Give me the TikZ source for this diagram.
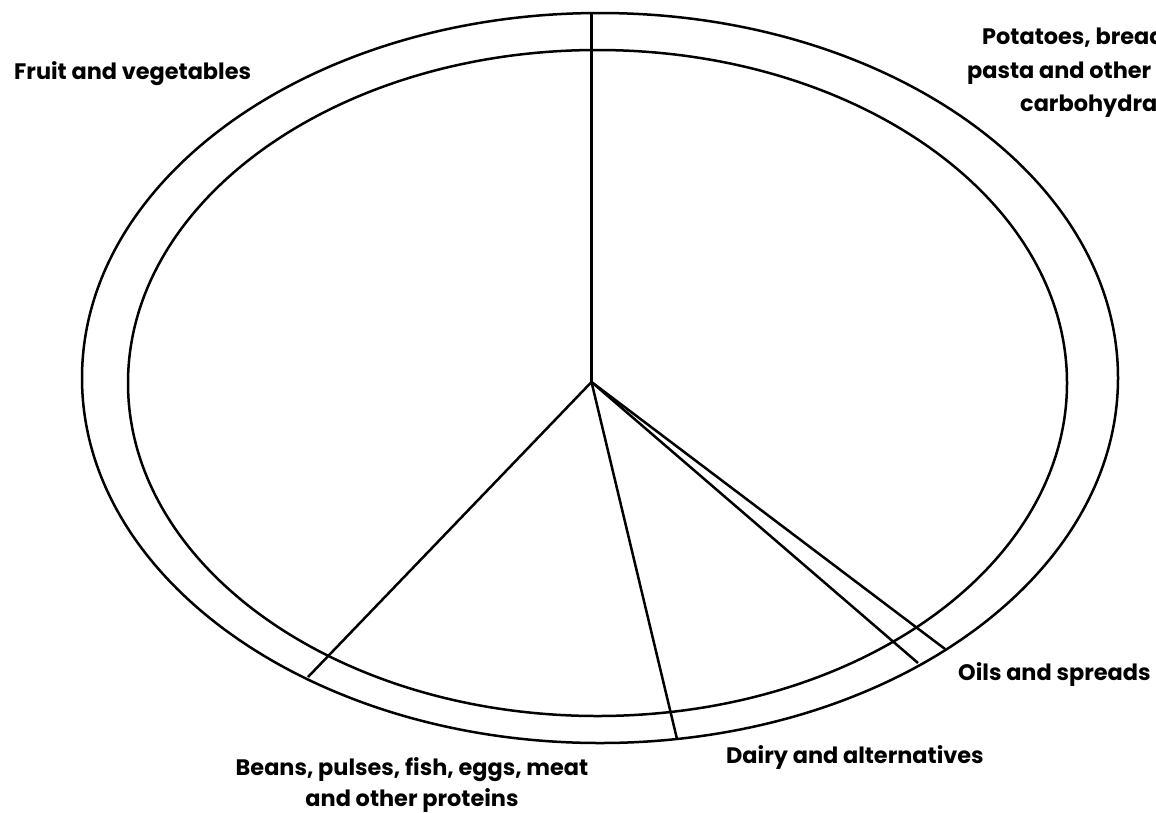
\documentclass[tikz,border=0pt]{standalone}
\usepackage{fontspec}
\setmainfont{Poppins}
\begin{document}
\begin{tikzpicture}[x=1pt,y=-1pt,
  rim/.style={line width=2.5pt,black},
  divider/.style={line width=2.5pt,black},
  lbl/.style={inner sep=0pt,font=\fontsize{22.4}{26}\selectfont\bfseries}]
\useasboundingbox (0,0) rectangle (1156,812);
\clip (0,0) rectangle (1156,812);
% plate
\draw[rim] (600,378) ellipse [x radius=518, y radius=365];
\draw[rim] (597.5,383) ellipse [x radius=469.5, y radius=333];
% divisions
\coordinate (c) at (591.5,382);
\coordinate (top) at (591.5,13);
\coordinate (beans) at (308,677);
\coordinate (dairy) at (677,739);
\coordinate (oilsA) at (918,663);
\coordinate (oilsB) at (945,649);
\draw[divider] (c) -- (top);
\draw[divider] (c) -- (beans);
\draw[divider] (c) -- (dairy);
\draw[divider] (c) -- (oilsA);
\draw[divider] (c) -- (oilsB);
% labels
\node[lbl,anchor=base west] (fv) at (14,79) {Fruit and vegetables};
\node[lbl,anchor=base west] (p1) at (982,44) {Potatoes, bread};
\node[lbl,anchor=base west] (p2) at (967,78) {pasta and other};
\node[lbl,anchor=base west] (p3) at (1020,111) {carbohydra};
\node[lbl,anchor=base west] (oil) at (958,680) {Oils and spreads};
\node[lbl,anchor=base west] (dai) at (726,763) {Dairy and alternatives};
\node[lbl,anchor=base] (b1) at (412,775) {Beans, pulses, fish, eggs, meat};
\node[lbl,anchor=base] (b2) at (412,806) {and other proteins};
\end{tikzpicture}
\end{document}
